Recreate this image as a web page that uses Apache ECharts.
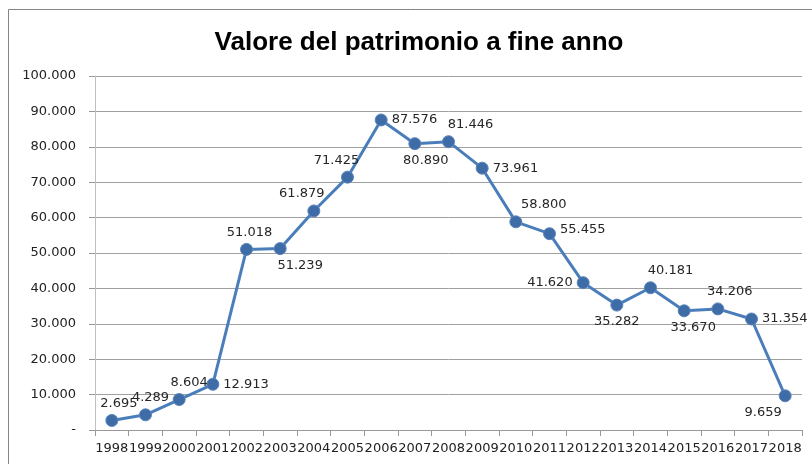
<!DOCTYPE html>
<html>
<head>
<meta charset="utf-8">
<script src="https://cdn.jsdelivr.net/npm/echarts@6/dist/echarts.min.js"></script>
<style>
  html, body { margin: 0; padding: 0; background: #fff; }
  #chart { width: 812px; height: 464px; }
</style>
</head>
<body>
<div id="chart"></div>
<script>
var anni = ['1998', '1999', '2000', '2001', '2002', '2003', '2004', '2005', '2006', '2007',
  '2008', '2009', '2010', '2011', '2012', '2013', '2014', '2015', '2016', '2017', '2018']
var patrimonio = [2695, 4289, 8604, 12913, 51018, 51239, 61879, 71425, 87576, 80890,
  81446, 73961, 58800, 55455, 41620, 35282, 40181, 33670, 34206, 31354, 9659]

// dove va l'etichetta di ogni punto (come nel grafico originale)
var etichette = [
  ['top', 7, 0], ['top', 5, 0], ['top', 10, 0], ['right', 0, 0], ['top', 3, 0],
  ['bottom', 20, 0], ['top', -12, 0], ['top', -11, 0], ['right', 0, 0], ['bottom', 11, 0],
  ['top', 22, 0], ['right', 0, 0], ['top', 28, 0], ['right', 0, -4], ['left', 0, 0],
  ['bottom', 0, 0], ['top', 20, 0], ['bottom', 9, 0], ['top', 12, 0], ['right', 0, 0],
  ['bottom', -22, 0]
]

function formatta(v) {
  if (v === 0) return '-'
  var s = String(Math.round(v))
  return s.replace(/\B(?=(\d{3})+(?!\d))/g, '.')
}

var punti = patrimonio.map(function (v, i) {
  var e = etichette[i]
  return {
    value: v,
    label: { position: e[0], offset: [e[1], e[2]] }
  }
})

var myChart = echarts.init(document.getElementById('chart'))
myChart.setOption({
  backgroundColor: '#fff',
  animation: false,
  title: {
    text: 'Valore del patrimonio a fine anno',
    left: 414,
    textAlign: 'center',
    top: 25,
    textStyle: {
      fontFamily: 'Liberation Sans',
      fontWeight: 'bold',
      fontSize: 26,
      color: '#000'
    }
  },
  graphic: [{
    type: 'rect',
    silent: true,
    shape: { x: 8.5, y: 9.5, width: 900, height: 600 },
    style: { fill: 'none', stroke: '#868686', lineWidth: 1 }
  }],
  grid: { left: 95, right: 10, top: 76, bottom: 34 },
  xAxis: {
    type: 'category',
    data: anni,
    boundaryGap: true,
    axisLine: { lineStyle: { color: '#999', width: 1 } },
    axisTick: { show: true, length: 6, lineStyle: { color: '#999' } },
    axisLabel: {
      interval: 0,
      margin: 12,
      color: '#222',
      fontFamily: 'DejaVu Sans',
      fontSize: 13
    }
  },
  yAxis: {
    type: 'value',
    min: 0,
    max: 100000,
    interval: 10000,
    axisLine: { show: true, lineStyle: { color: '#c0c0c0' } },
    axisTick: { show: true, length: 6, lineStyle: { color: '#999' } },
    splitLine: { lineStyle: { color: '#a0a0a0', width: 1 } },
    axisLabel: {
      margin: 19,
      color: '#222',
      fontFamily: 'DejaVu Sans',
      fontSize: 13,
      formatter: formatta
    }
  },
  series: [{
    type: 'line',
    data: punti,
    symbol: 'circle',
    symbolSize: 12,
    lineStyle: { color: '#4a7ebb', width: 3 },
    itemStyle: { color: '#3e6ca6', borderColor: '#5b84bb', borderWidth: 1 },
    label: {
      show: true,
      distance: 4,
      color: '#262626',
      fontFamily: 'DejaVu Sans',
      fontSize: 13,
      formatter: function (p) { return formatta(p.value) }
    }
  }]
})
</script>
</body>
</html>
